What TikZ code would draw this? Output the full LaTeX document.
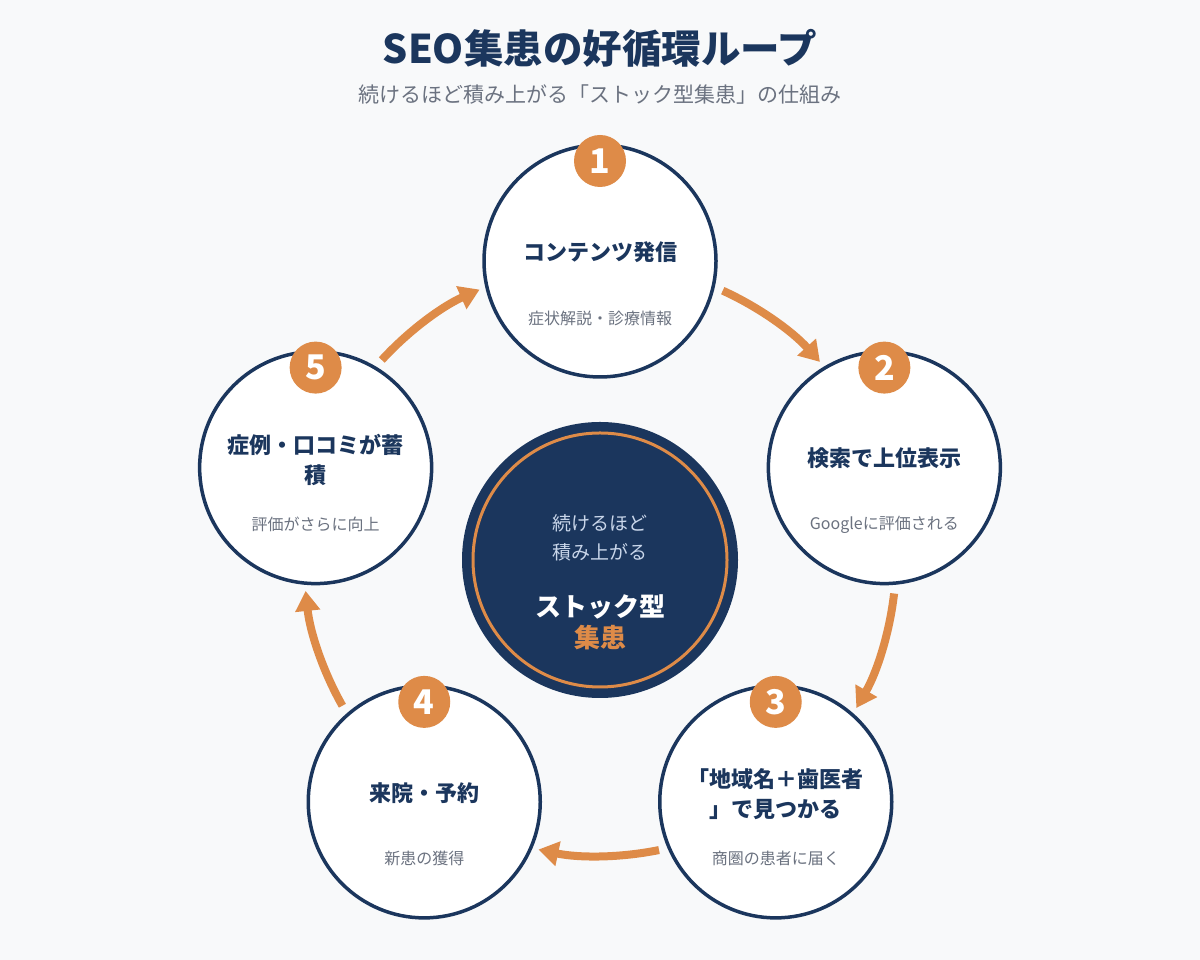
\documentclass[tikz,border=0pt]{standalone}
\usepackage{fontspec}
\setmainfont{Noto Sans CJK JP}
\usetikzlibrary{arrows.meta,calc}
\definecolor{navy}{HTML}{1B365D}
\definecolor{accent}{HTML}{DE8B48}
\definecolor{bg}{HTML}{F8F9FA}
\definecolor{subgray}{HTML}{6B7280}
\definecolor{lightblue}{HTML}{C9D6EA}
\begin{document}
\begin{tikzpicture}[x=1pt,y=1pt,
  stage/.style={circle, draw=navy, line width=3.5pt, fill=white, minimum size=232pt, inner sep=0pt},
  badge/.style={circle, fill=accent, minimum size=52pt, inner sep=0pt, text=white, font=\bfseries\fontsize{34}{34}\selectfont},
  stagetitle/.style={text=navy, font=\bfseries\fontsize{22}{30}\selectfont, align=center},
  stagesub/.style={text=subgray, font=\fontsize{16}{20}\selectfont},
  flow/.style={draw=accent, line width=8pt, -{Triangle[length=20pt,width=24pt]}},
]
\fill[bg] (0,0) rectangle (1200,960);
\useasboundingbox (0,0) rectangle (1200,960);
\coordinate (O) at (600,400);
% title
\node[text=navy, font=\bfseries\fontsize{39.5}{40}\selectfont] (title) at (600,912) {SEO集患の好循環ループ};
\node[text=subgray, font=\fontsize{21}{24}\selectfont] (subtitle) at (600,865) {続けるほど積み上がる「ストック型集患」の仕組み};
% center
\node[circle, fill=navy, minimum size=276pt, inner sep=0pt] (hub) at (O) {};
\draw[accent, line width=3pt] (hub.center) circle[radius=127];
\node[text=lightblue, font=\fontsize{19}{29}\selectfont, align=center] (hubtop) at ($(O)+(0,22.5)$) {続けるほど\\積み上がる};
\node[text=white, font=\bfseries\fontsize{26}{26}\selectfont] (hubmain) at ($(O)+(0,-47)$) {ストック型};
\node[text=accent, font=\bfseries\fontsize{26}{26}\selectfont] (hubacc) at ($(O)+(0,-78)$) {集患};
% stages
\node[stage] (s1) at ($(O)+(90:299)$) {};
\node[stage] (s2) at ($(O)+(18:299)$) {};
\node[stage] (s3) at ($(O)+(-54:299)$) {};
\node[stage] (s4) at ($(O)+(-126:299)$) {};
\node[stage] (s5) at ($(O)+(162:299)$) {};
% badges
\node[badge] (b1) at ($(s1)+(0,100)$) {1};
\node[badge] (b2) at ($(s2)+(0,100)$) {2};
\node[badge] (b3) at ($(s3)+(0,100)$) {3};
\node[badge] (b4) at ($(s4)+(0,100)$) {4};
\node[badge] (b5) at ($(s5)+(0,100)$) {5};
% texts
\node[stagetitle] (t1) at ($(s1)+(0,9)$) {コンテンツ発信};
\node[stagesub] (u1) at ($(s1)+(0,-57)$) {症状解説・診療情報};
\node[stagetitle] (t2) at ($(s2)+(0,9)$) {検索で上位表示};
\node[stagesub] (u2) at ($(s2)+(0,-57)$) {Googleに評価される};
\node[stagetitle] (t3) at ($(s3)+(0,8)$) {「地域名＋歯医者\\」で見つかる};
\node[stagesub] (u3) at ($(s3)+(0,-57)$) {商圏の患者に届く};
\node[stagetitle] (t4) at ($(s4)+(0,9)$) {来院・予約};
\node[stagesub] (u4) at ($(s4)+(0,-57)$) {新患の獲得};
\node[stagetitle] (t5) at ($(s5)+(0,8)$) {症例・口コミが蓄\\積};
\node[stagesub] (u5) at ($(s5)+(0,-57)$) {評価がさらに向上};
% arrows
\coordinate (a12) at ($(O)+(65.5:296)$);
\coordinate (a23) at ($(O)+(-6.5:296)$);
\coordinate (a34) at ($(O)+(-78.5:296)$);
\coordinate (a45) at ($(O)+(-150.5:296)$);
\coordinate (a51) at ($(O)+(137.5:296)$);
\draw[flow] (a12) arc[start angle=65.5, end angle=42, radius=296];
\draw[flow] (a23) arc[start angle=-6.5, end angle=-30, radius=296];
\draw[flow] (a34) arc[start angle=-78.5, end angle=-102, radius=296];
\draw[flow] (a45) arc[start angle=-150.5, end angle=-174, radius=296];
\draw[flow] (a51) arc[start angle=137.5, end angle=114, radius=296];
\end{tikzpicture}
\end{document}
